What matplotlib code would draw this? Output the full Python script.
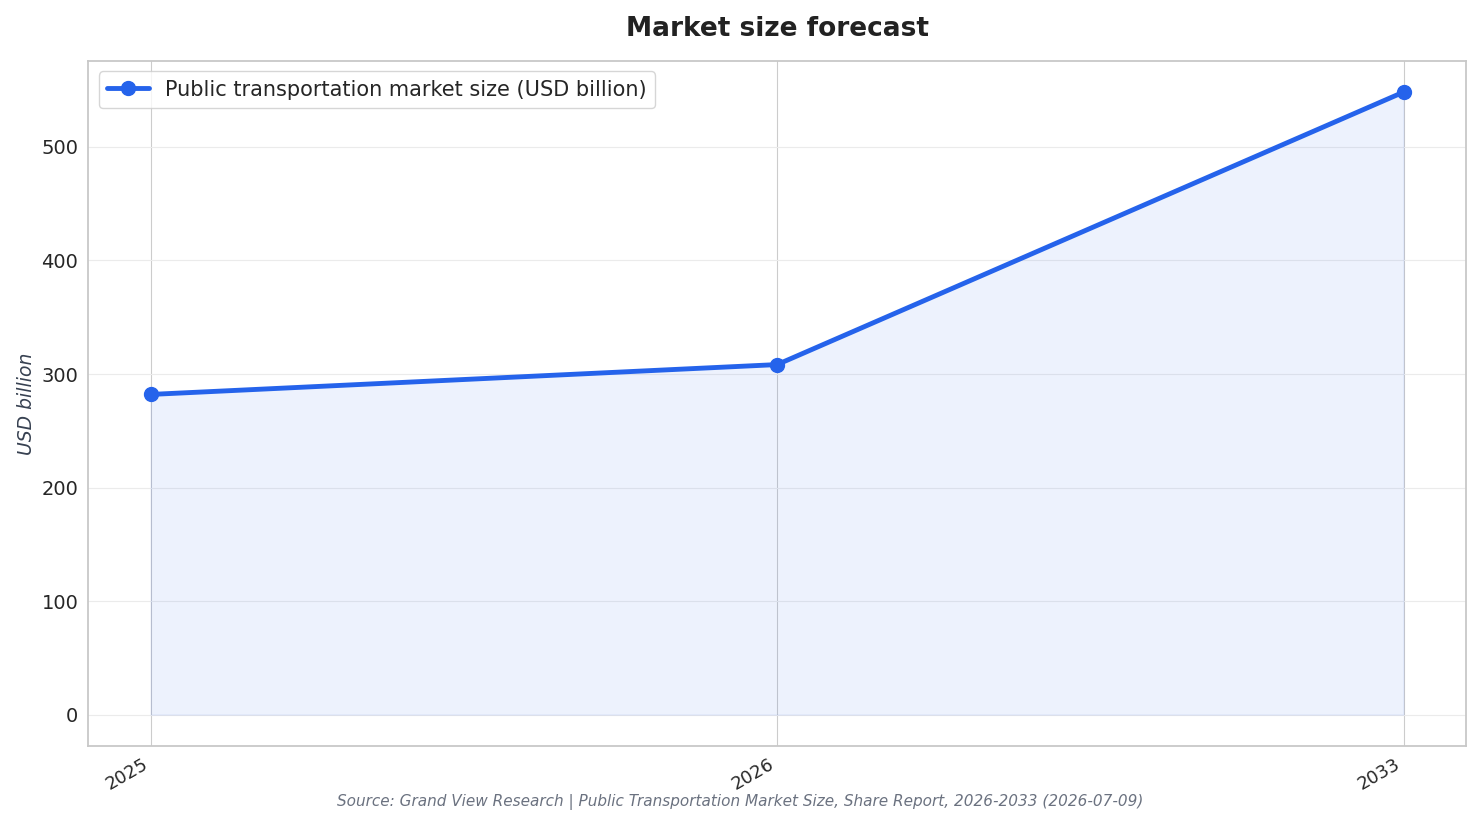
import matplotlib
matplotlib.use('Agg')
import matplotlib.pyplot as plt
import seaborn as sns

# data
years = ['2025', '2026', '2033']
market_size = [282.0, 308.3, 548.3]
series_label = 'Public transportation market size (USD billion)'
source_text = 'Source: Grand View Research | Public Transportation Market Size, Share Report, 2026-2033 (2026-07-09)'

sns.set_style('whitegrid')
plt.rcParams['font.family'] = ['DejaVu Sans']

fig, ax = plt.subplots(figsize=(14.81, 8.24), dpi=100)
x = list(range(len(years)))

ax.plot(x, market_size, color='#2563eb', linewidth=3.5, marker='o', markersize=10, label=series_label)
ax.fill_between(x, market_size, color='#2563eb', alpha=0.08)

ax.set_xticks(x)
ax.set_xticklabels(years, rotation=30, ha='right', fontsize=13)
ax.tick_params(axis='y', labelsize=14)
ax.set_title('Market size forecast', fontsize=19, fontweight='bold', color='#222222', pad=18)
ax.set_ylabel('USD billion', fontsize=13.5, style='italic', color='#374151')

ax.grid(axis='y', color='#ebebeb')
ax.grid(axis='x', color='#cccccc')
for s in ax.spines.values():
    s.set_color('#c8c8c8')
    s.set_linewidth(1.3)

ax.legend(loc='upper left', fontsize=15, frameon=True)

fig.text(0.5, 0.022, source_text, ha='center', fontsize=11, style='italic', color='#6b7280')
fig.subplots_adjust(left=0.0595, right=0.99, top=0.926, bottom=0.095)
fig.savefig('out.png', dpi=100)
